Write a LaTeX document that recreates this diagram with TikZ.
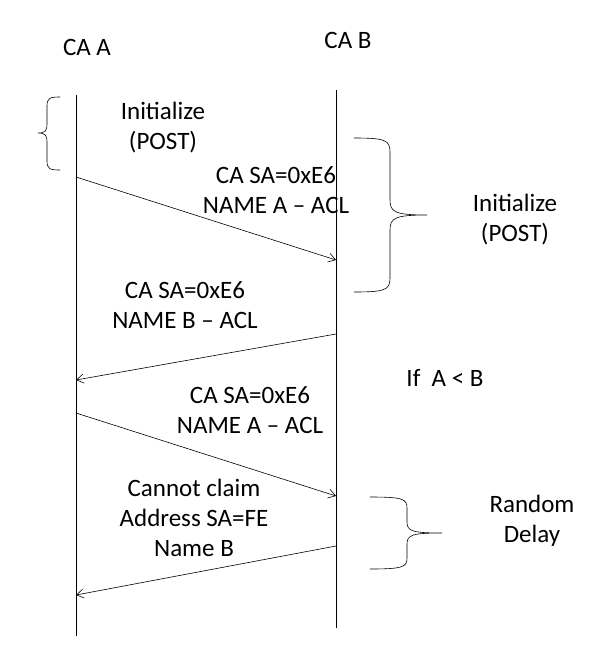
\documentclass[tikz,border=0pt]{standalone}
\usepackage{fontspec}
\setmainfont{Carlito}
\usetikzlibrary{arrows.meta}
\begin{document}
\begin{tikzpicture}[x=1pt,y=-1pt,
  lbl/.style={align=center,font=\fontsize{25}{30}\selectfont,inner sep=0pt},
  msg/.style={-{Straight Barb[length=7pt,width=9pt]},line width=0.6pt},
  life/.style={line width=0.7pt},
  br/.style={line width=0.6pt}]
\useasboundingbox (0,0) rectangle (613,646);
\coordinate (At) at (76,95); \coordinate (Ab) at (76,636);
\coordinate (Bt) at (336,90); \coordinate (Bb) at (336,628);
\draw[life] (At) -- (Ab);
\draw[life] (Bt) -- (Bb);
\node[lbl] (ca) at (87,47) {CA A};
\node[lbl] (cb) at (348,40) {CA B};
\node[lbl] (i1) at (163,128) {Initialize\\(POST)};
\node[lbl] (m1) at (276,190) {CA SA=0xE6\\NAME A – ACL};
\node[lbl] (i2) at (515,220) {Initialize\\(POST)};
\node[lbl] (m2) at (185,305) {CA SA=0xE6\\NAME B – ACL};
\node[lbl] (if) at (445,378) {If~ A < B};
\node[lbl] (m3) at (250,410) {CA SA=0xE6\\NAME A – ACL};
\node[lbl] (m4) at (194,518) {Cannot claim\\Address SA=FE\\Name B};
\node[lbl] (rd) at (532,521) {Random\\Delay};
\coordinate (a1) at (76,177); \coordinate (b1) at (336,260);
\coordinate (b2) at (336,334); \coordinate (a2) at (76,380);
\coordinate (a3) at (76,413); \coordinate (b3) at (336,496);
\coordinate (b4) at (336,546); \coordinate (a4) at (76,595);
\draw[msg] (a1) -- (b1);
\draw[msg] (b2) -- (a2);
\draw[msg] (a3) -- (b3);
\draw[msg] (b4) -- (a4);
% left brace
\draw[br] (60,97) .. controls (50,97) and (47,98) .. (47,106) -- (47,124)
  .. controls (47,131) and (45,133) .. (38,133)
  .. controls (45,133) and (47,135) .. (47,142) -- (47,161)
  .. controls (47,169) and (50,170) .. (60,170);
% right brace 1
\draw[br] (354,138) .. controls (385,138) and (390,140) .. (390,152) -- (390,200)
  .. controls (390,212) and (395,215) .. (427,215)
  .. controls (395,215) and (390,218) .. (390,230) -- (390,278)
  .. controls (390,290) and (385,292) .. (354,292);
% right brace 2
\draw[br] (370,497) .. controls (403,497) and (407,499) .. (407,508) -- (407,522)
  .. controls (407,531) and (412,533) .. (442,533)
  .. controls (412,533) and (407,535) .. (407,544) -- (407,558)
  .. controls (407,567) and (403,569) .. (370,569);
\end{tikzpicture}
\end{document}
